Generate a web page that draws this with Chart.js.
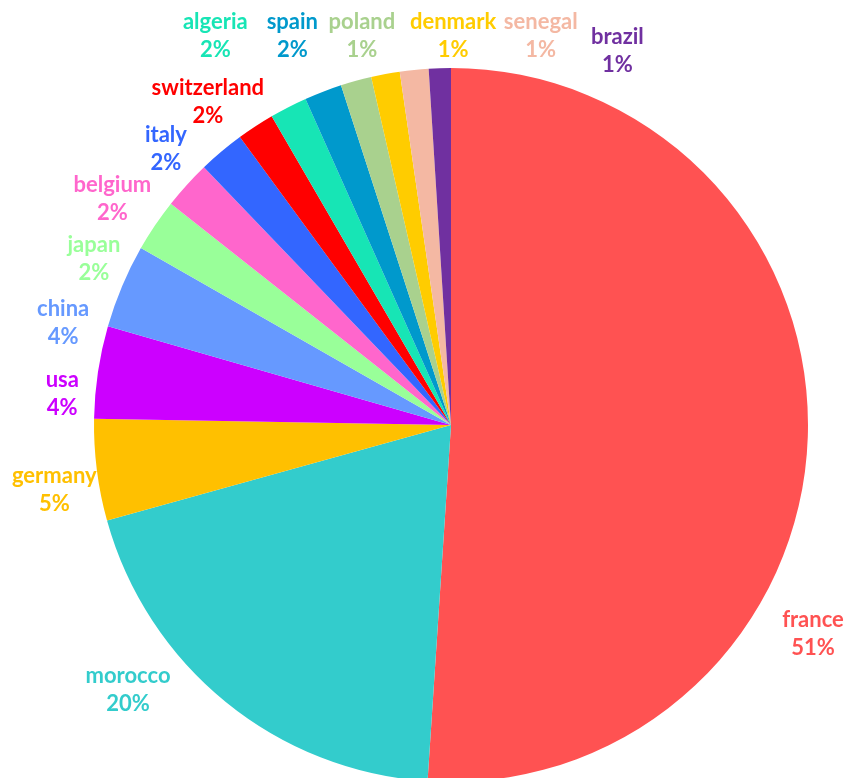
<!DOCTYPE html>
<html>
<head>
<meta charset="utf-8">
<script src="https://cdn.jsdelivr.net/npm/chart.js@4.4.0/dist/chart.umd.min.js"></script>
<style>
  html, body { margin: 0; padding: 0; background: #fff; overflow: hidden; }
  .wrap { width: 848px; height: 800px; position: relative; }
</style>
</head>
<body>
<div class="wrap"><canvas id="myChart" width="848" height="800"></canvas></div>
<script>
// countries, clockwise from 12 o'clock
let countries = [`france`, `morocco`, `germany`, `usa`, `china`, `japan`, `belgium`, `italy`, `switzerland`, `algeria`, `spain`, `poland`, `denmark`, `senegal`, `brazil`]
let shares = [51.2, 19.7, 4.6, 4.2, 3.8, 2.4, 2.2, 2.1, 1.7, 1.7, 1.7, 1.4, 1.3, 1.3, 1.0]
let colors = [`#ff5252`, `#33cccc`, `#ffc000`, `#cc00ff`, `#6699ff`, `#99ff99`, `#ff66cc`, `#3366ff`, `#ff0000`, `#17e5b5`, `#0099cc`, `#a9d18e`, `#ffcc00`, `#f4b8a3`, `#7030a0`]

// where each label sits: angle (deg, clockwise from top) and gap outside the rim
let labelAngle = [120, -129.4, -99.3, -85.4, -75.3, -65, -56.3, -45.9, -37, -31.2, -22.2, -12.9, 0.3, 13, 24]
let labelGap = [61, 61, 45, 33, 44, 37, 50, 40, 47, 98, 63, 42, 32, 42, 52]

const total = shares.reduce((a, b) => a + b, 0)

const outsideLabels = {
    id: `outsideLabels`,
    afterDatasetsDraw(chart) {
        const ctx = chart.ctx
        const arcs = chart.getDatasetMeta(0).data
        ctx.save()
        ctx.font = `bold 22px Lato`
        ctx.textAlign = `center`
        ctx.textBaseline = `middle`
        arcs.forEach((arc, i) => {
            const a = labelAngle[i] * Math.PI / 180
            const dist = arc.outerRadius + labelGap[i]
            const x = arc.x + Math.sin(a) * dist
            const y = arc.y - Math.cos(a) * dist
            ctx.fillStyle = colors[i]
            ctx.fillText(countries[i], x, y - 14)
            ctx.fillText(Math.round(shares[i] / total * 100) + `%`, x, y + 14)
        })
        ctx.restore()
    }
}

const ctx = document.getElementById(`myChart`)
const myChart = new Chart(ctx, {
    type: `pie`,
    data: {
        labels: countries,
        datasets: [{
            data: shares,
            backgroundColor: colors,
            borderWidth: 0
        }]
    },
    options: {
        responsive: false,
        animation: false,
        layout: { padding: { left: 94, right: 40, top: 68, bottom: 18 } },
        plugins: {
            legend: { display: false },
            tooltip: { enabled: false }
        }
    },
    plugins: [outsideLabels]
})
</script>
</body>
</html>
